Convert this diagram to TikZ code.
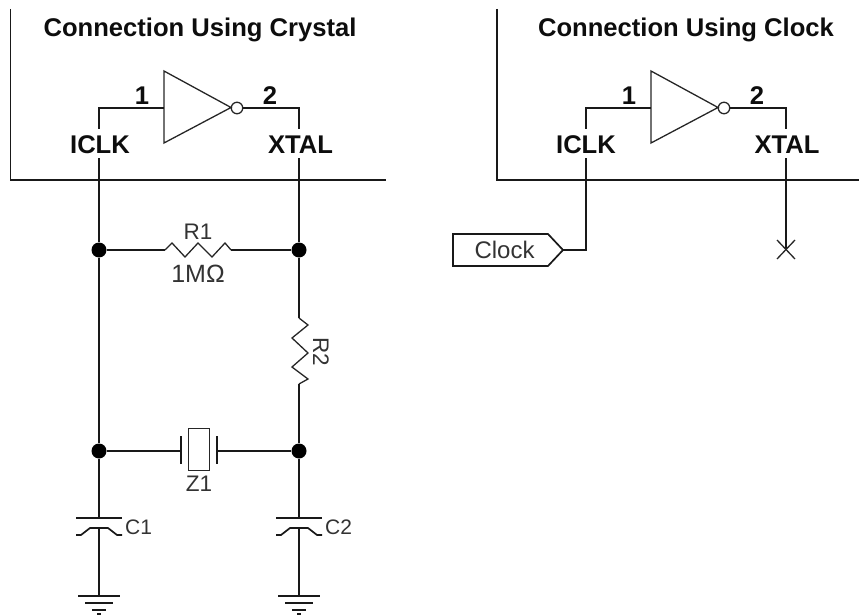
\documentclass[tikz,border=0pt]{standalone}
\usepackage{fontspec}
\setmainfont{Liberation Sans}
\begin{document}
\begin{tikzpicture}[x=1pt,y=-1pt,line join=miter,
  wire/.style={draw=black!90,line width=1.7pt},
  thin wire/.style={draw=black!85,line width=1.3pt},
  dotnode/.style={circle,fill=black,draw=none,inner sep=0pt,minimum size=15pt},
  bold label/.style={inner sep=0pt,font=\bfseries\fontsize{25.6}{26}\selectfont,text=black!95},
  part label/.style={inner sep=0pt,font=\fontsize{22.5}{23}\selectfont,text=black!80}]
\useasboundingbox (0,0) rectangle (859,615);
% ---------- left panel
\draw[wire] (10.5,9) -- (10.5,180) -- (386,180);
\node[bold label] (titleA) at (200,30) {Connection Using Crystal};
\coordinate (invAw) at (164,108);
\coordinate (invAa) at (164,71);
\coordinate (invAb) at (164,143);
\coordinate (invAtip) at (231,107.5);
\node[circle,thin wire,fill=white,inner sep=0pt,minimum size=11.5pt] (bubA) at (237,108) {};
\draw[thin wire] (invAa) -- (invAtip) -- (invAb) -- cycle;
\node[bold label] (iclkA) at (100,145) {ICLK};
\node[bold label] (xtalA) at (300.5,145) {XTAL};
\node[bold label] (oneA) at (142,96) {1};
\node[bold label] (twoA) at (270,96) {2};
\coordinate (cornA) at (99,108);
\coordinate (cornB) at (299,108);
\coordinate (iclkAt) at (99,129);
\coordinate (iclkAb) at (99,158);
\coordinate (xtalAt) at (299,129);
\coordinate (xtalAb) at (299,158);
\draw[wire] (iclkAt) -- (cornA) -- (invAw);
\draw[wire] (bubA) -- (cornB) -- (xtalAt);
\node[dotnode] (jA) at (99,250) {};
\node[dotnode] (jB) at (299,250) {};
\node[dotnode] (jC) at (99,451) {};
\node[dotnode] (jD) at (299,451) {};
\draw[wire] (iclkAb) -- (jA);
\draw[wire] (xtalAb) -- (jB);
\draw[wire] (jA) -- (jC);
% R1
\coordinate (r1a) at (165,250);
\coordinate (r1b) at (231,250);
\draw[wire] (jA) -- (r1a);
\draw[wire] (r1b) -- (jB);
\draw[thin wire] (r1a) -- (172,243) -- (185,257) -- (198,243) -- (212,257) -- (225,243) -- (r1b);
\node[part label] (r1t) at (198,232) {R1};
\node[part label,font=\fontsize{25}{25}\selectfont] (r1v) at (198,274) {1MΩ};
% R2
\coordinate (r2a) at (299,318);
\coordinate (r2b) at (299,384);
\draw[wire] (jB) -- (r2a);
\draw[wire] (r2b) -- (jD);
\draw[thin wire] (r2a) -- (308,325) -- (292,338) -- (308,353) -- (292,367) -- (308,379) -- (r2b);
\node[part label,rotate=-90] (r2t) at (321,352) {R2};
% crystal
\node[thin wire,draw,minimum width=21pt,minimum height=42pt,inner sep=0pt] (xtalbody) at (199,449.5) {};
\coordinate (pla) at (181,451);
\coordinate (plb) at (217,451);
\draw[wire] (jC) -- (pla);
\draw[wire] (plb) -- (jD);
\draw[wire] (181,436) -- (181,464);
\draw[wire] (217,436) -- (217,464);
\node[part label] (z1t) at (199,484) {Z1};
% C1
\coordinate (c1a) at (99,518);
\coordinate (c1b) at (99,528);
\coordinate (g1) at (99,596);
\draw[wire] (jC) -- (c1a);
\draw[wire] (c1b) -- (g1);
\draw[wire] (76,518) -- (122,518);
\draw[wire] (76,535) -- (81,535) -- (90,528) -- (108,528) -- (117,535) -- (122,535);
\node[part label,font=\fontsize{21}{21}\selectfont,anchor=west] (c1t) at (125,527) {C1};
\draw[wire] (78,596) -- (120,596);
\draw[wire] (85,603) -- (113,603);
\draw[wire] (92,610) -- (106,610);
\draw[wire] (97,614.3) -- (101,614.3);
% C2
\coordinate (c2a) at (299,518);
\coordinate (c2b) at (299,528);
\coordinate (g2) at (299,596);
\draw[wire] (jD) -- (c2a);
\draw[wire] (c2b) -- (g2);
\draw[wire] (276,518) -- (322,518);
\draw[wire] (276,535) -- (281,535) -- (290,528) -- (308,528) -- (317,535) -- (322,535);
\node[part label,font=\fontsize{21}{21}\selectfont,anchor=west] (c2t) at (325,527) {C2};
\draw[wire] (278,596) -- (320,596);
\draw[wire] (285,603) -- (313,603);
\draw[wire] (292,610) -- (306,610);
\draw[wire] (297,614.3) -- (301,614.3);
% ---------- right panel
\draw[wire] (497,9) -- (497,180) -- (859,180);
\node[bold label] (titleB) at (686,30) {Connection Using Clock};
\coordinate (invBw) at (651,108);
\coordinate (invBa) at (651,71);
\coordinate (invBb) at (651,143);
\coordinate (invBtip) at (718,107.5);
\node[circle,thin wire,fill=white,inner sep=0pt,minimum size=11.5pt] (bubB) at (724,108) {};
\draw[thin wire] (invBa) -- (invBtip) -- (invBb) -- cycle;
\node[bold label] (iclkB) at (586,145) {ICLK};
\node[bold label] (xtalB) at (787,145) {XTAL};
\node[bold label] (oneB) at (629,96) {1};
\node[bold label] (twoB) at (757,96) {2};
\coordinate (cornC) at (586,108);
\coordinate (cornD) at (786,108);
\coordinate (iclkBt) at (586,129);
\coordinate (iclkBb) at (586,158);
\coordinate (xtalBt) at (786,129);
\coordinate (xtalBb) at (786,158);
\draw[wire] (iclkBt) -- (cornC) -- (invBw);
\draw[wire] (bubB) -- (cornD) -- (xtalBt);
\coordinate (tagtip) at (563,250);
\coordinate (cornE) at (586,250);
\draw[wire] (453,234) -- (548,234) -- (tagtip) -- (548,266) -- (453,266) -- cycle;
\node[part label,font=\fontsize{24}{24}\selectfont] (clk) at (504.5,250) {Clock};
\draw[wire] (iclkBb) -- (cornE) -- (tagtip);
\coordinate (nc) at (786,250);
\draw[wire] (xtalBb) -- (nc);
\draw[thin wire] (777,240) -- (795,259);
\draw[thin wire] (795,240) -- (777,259);
\end{tikzpicture}
\end{document}
